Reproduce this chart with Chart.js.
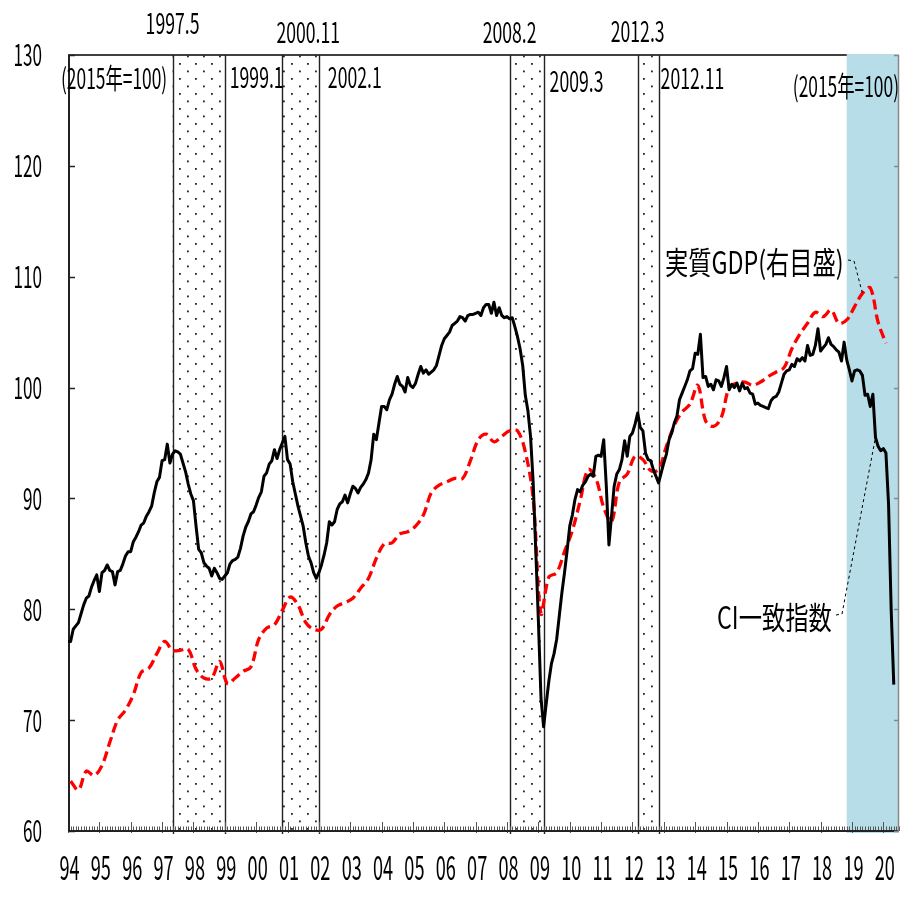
<!DOCTYPE html>
<html lang="ja">
<head>
<meta charset="utf-8">
<title>CI一致指数と実質GDP</title>
<script src="https://cdn.jsdelivr.net/npm/chart.js@4.4.1/dist/chart.umd.min.js"></script>
<style>
  html, body { margin: 0; padding: 0; background: #fff; }
  canvas { display: block; }
</style>
</head>
<body>
<canvas id="ciChart" width="903" height="907"></canvas>
<script>
// Datos: CI一致指数 (mensual, desde 1994.1) y 実質GDP (trimestral, desde 1994 I)
const startYear = 1994;

const ciValues = [
    77.1, 77.1, 78.2, 78.5, 78.8, 79.6, 80.4, 81.0, 81.2, 82.0, 82.6, 83.1,   // 1994
    81.6, 83.3, 83.5, 84.0, 83.5, 83.4, 82.2, 83.4, 83.5, 84.1, 84.8, 85.2,   // 1995
    85.2, 86.1, 86.5, 87.0, 87.6, 87.8, 88.4, 88.8, 89.3, 90.5, 91.5, 91.9,   // 1996
    93.4, 93.5, 94.9, 93.2, 94.0, 94.3, 94.2, 94.0, 93.2, 92.4, 91.3, 90.4,   // 1997
    89.8, 87.5, 85.4, 85.1, 84.2, 83.9, 83.7, 83.0, 83.7, 83.3, 82.8, 82.7,   // 1998
    83.0, 83.3, 84.1, 84.4, 84.5, 84.7, 85.5, 86.6, 87.4, 87.9, 88.6, 88.8,   // 1999
    89.4, 90.1, 90.6, 92.0, 92.3, 93.1, 93.4, 94.4, 93.6, 94.4, 95.0, 95.6,   // 2000
    93.5, 93.1, 91.5, 90.4, 89.3, 88.4, 87.5, 86.0, 84.8, 84.2, 83.3, 82.8,   // 2001
    83.3, 84.0, 84.9, 86.0, 87.9, 87.6, 87.9, 89.0, 89.5, 89.7, 90.3, 89.6,   // 2002
    90.4, 91.1, 90.9, 90.5, 91.0, 91.3, 91.7, 92.3, 93.5, 95.8, 95.3, 96.8,   // 2003
    98.3, 98.3, 98.0, 98.9, 99.4, 100.3, 101.0, 100.3, 100.1, 99.6, 100.9, 100.2, // 2004
    100.0, 100.4, 101.2, 101.9, 101.3, 101.6, 101.2, 101.4, 101.6, 102.0, 102.9, 103.8, // 2005
    104.4, 104.7, 105.0, 105.6, 105.8, 106.0, 106.4, 106.3, 106.0, 106.5, 106.6, 106.6, // 2006
    106.7, 106.8, 106.5, 107.2, 107.5, 107.5, 106.7, 107.7, 106.5, 107.2, 106.5, 106.3, // 2007
    106.4, 106.2, 106.3, 105.5, 104.6, 103.5, 102.0, 99.3, 97.9, 95.6, 91.5, 85.3,     // 2008
    79.0, 72.0, 69.4, 71.5, 73.5, 75.1, 76.0, 77.3, 79.4, 81.5, 83.3, 85.3,   // 2009
    87.5, 88.5, 89.9, 90.8, 90.6, 91.2, 91.5, 92.0, 92.2, 92.0, 93.8, 93.9,   // 2010
    93.8, 95.3, 91.1, 85.8, 88.4, 91.1, 92.2, 92.6, 93.5, 95.2, 93.8, 95.6,   // 2011
    95.9, 96.7, 97.7, 96.4, 96.1, 94.1, 93.5, 93.4, 92.6, 92.0, 91.4, 92.3,   // 2012
    93.2, 94.0, 95.3, 95.9, 96.8, 97.4, 98.9, 99.5, 100.1, 100.7, 101.5, 101.7, // 2013
    103.1, 103.0, 104.8, 100.9, 101.0, 100.1, 100.3, 99.8, 100.7, 100.6, 100.1, 100.9, // 2014
    101.9, 99.8, 100.3, 100.0, 100.4, 99.7, 100.4, 99.9, 100.0, 99.5, 99.4, 98.5,      // 2015
    98.6, 98.4, 98.3, 98.2, 98.1, 98.8, 99.1, 99.2, 99.6, 100.4, 101.2, 101.5,         // 2016
    101.6, 102.1, 101.9, 102.6, 102.4, 102.7, 102.4, 103.8, 102.9, 103.0, 103.8, 105.3, // 2017
    103.3, 103.6, 103.9, 104.5, 103.9, 103.7, 103.4, 103.2, 102.4, 104.1, 102.5, 101.6, // 2018
    100.6, 101.5, 101.6, 101.5, 101.1, 99.3, 99.4, 98.3, 99.4, 95.5, 94.7, 94.3,       // 2019
    94.5, 94.1, 89.5, 80.0, 73.2                                                       // 2020
];

const gdpValues = [
    64.5, 63.7, 65.4, 65.0,     // 1994
    65.9, 68.0, 70.0, 70.9,     // 1995
    72.3, 74.3, 74.7, 76.0,     // 1996
    77.1, 76.3, 76.3, 76.4,     // 1997
    74.6, 73.8, 73.8, 75.3,     // 1998
    73.3, 73.8, 74.4, 74.8,     // 1999
    77.3, 78.3, 78.6, 79.9,     // 2000
    81.1, 80.4, 78.8, 78.2,     // 2001
    78.2, 79.5, 80.3, 80.6,     // 2002
    81.0, 81.9, 82.8, 84.6,     // 2003
    85.9, 86.0, 86.8, 87.0,     // 2004
    87.5, 88.5, 90.5, 91.2,     // 2005
    91.5, 91.8, 91.8, 93.4,     // 2006
    95.3, 95.8, 95.1, 95.6,     // 2007
    96.1, 96.1, 94.2, 90.0,     // 2008
    79.6, 82.9, 83.3, 85.2,     // 2009
    87.1, 89.8, 92.6, 91.8,     // 2010
    89.2, 87.9, 91.5, 92.2,     // 2011
    93.8, 93.5, 92.5, 92.6,     // 2012
    94.7, 96.6, 97.8, 98.5,     // 2013
    100.2, 97.0, 96.5, 97.3,    // 2014
    100.0, 100.4, 100.5, 100.2, // 2015
    100.5, 101.0, 101.4, 101.8, // 2016
    103.5, 104.8, 105.8, 106.8, // 2017
    106.4, 107.0, 105.8, 106.1, // 2018
    107.3, 108.5, 109.0, 105.9, // 2019
    104.0                       // 2020
];

const yTicks = [60, 70, 80, 90, 100, 110, 120, 130];
const yearLabels = ['94', '95', '96', '97', '98', '99', '00', '01', '02', '03', '04', '05', '06', '07',
    '08', '09', '10', '11', '12', '13', '14', '15', '16', '17', '18', '19', '20'];

// 景気の山と谷
const peakLabels = ['1997.5', '2000.11', '2008.2', '2012.3'];
const troughLabels = ['1999.1', '2002.1', '2009.3', '2012.11'];
const shadeFrom = '2018.11';

const baseLabel = '(2015年=100)';
const gdpLabel = '実質GDP(右目盛)';
const ciLabel = 'CI一致指数';

const FONT = '"Noto Sans CJK JP", "Noto Sans", sans-serif';

document.addEventListener('DOMContentLoaded', function() {
    initChart();
});

function monthToYear(label) {
    const parts = label.split('.');
    return Number(parts[0]) + (Number(parts[1]) - 1) / 12;
}

function drawText(ctx, str, x, y, size, sx, align) {
    ctx.save();
    ctx.font = size + 'px ' + FONT;
    ctx.textBaseline = 'middle';
    ctx.textAlign = 'left';
    ctx.fillStyle = '#000';
    const w = ctx.measureText(str).width * sx;
    let left = x;
    if (align === 'center') left = x - w / 2;
    if (align === 'right') left = x - w;
    ctx.translate(left, y);
    ctx.scale(sx, 1);
    ctx.fillText(str, 0, 0);
    ctx.restore();
}

function makeDotPattern(ctx) {
    const c = document.createElement('canvas');
    c.width = 16;
    c.height = 15;
    const p = c.getContext('2d');
    p.fillStyle = '#222';
    p.fillRect(3, 3, 1.8, 1.8);
    p.fillRect(11, 10.5, 1.8, 1.8);
    return ctx.createPattern(c, 'repeat');
}

// Fondo: bandas, ejes y marcas
const backgroundPlugin = {
    id: 'background',
    beforeDatasetsDraw(chart) {
        const ctx = chart.ctx;
        const area = chart.chartArea;
        const xs = chart.scales.x;
        const ys = chart.scales.y;
        const y2 = chart.scales.y2;

        ctx.save();
        // borde superior
        ctx.strokeStyle = '#000';
        ctx.lineWidth = 1.5;
        ctx.beginPath();
        ctx.moveTo(area.left, area.top);
        ctx.lineTo(area.right, area.top);
        ctx.stroke();

        // periodos de recesión
        const pattern = makeDotPattern(ctx);
        peakLabels.forEach((p, i) => {
            const x0 = xs.getPixelForValue(monthToYear(p));
            const x1 = xs.getPixelForValue(monthToYear(troughLabels[i]));
            ctx.fillStyle = pattern;
            ctx.fillRect(x0, area.top, x1 - x0, area.bottom - area.top);
            ctx.strokeStyle = '#222';
            ctx.lineWidth = 1.4;
            [x0, x1].forEach(x => {
                ctx.beginPath();
                ctx.moveTo(Math.round(x) + 0.5, area.top);
                ctx.lineTo(Math.round(x) + 0.5, area.bottom + 3);
                ctx.stroke();
            });
        });

        // zona celeste
        const xb = xs.getPixelForValue(monthToYear(shadeFrom));
        ctx.fillStyle = 'rgb(183, 221, 232)';
        ctx.fillRect(xb, area.top - 1, area.right - xb, area.bottom - area.top + 3);

        // eje X y marcas mensuales
        ctx.strokeStyle = '#555';
        ctx.lineWidth = 1;
        const months = Math.round((xs.max - xs.min) * 12);
        for (let i = 0; i <= months; i++) {
            const x = Math.round(xs.getPixelForValue(xs.min + i / 12)) + 0.5;
            ctx.beginPath();
            if (i % 12 === 0) {
                ctx.moveTo(x, area.bottom - 9);
                ctx.lineTo(x, area.bottom + 2);
            } else {
                ctx.moveTo(x, area.bottom - 4.5);
                ctx.lineTo(x, area.bottom);
            }
            ctx.stroke();
        }
        ctx.strokeStyle = '#222';
        ctx.lineWidth = 2;
        ctx.beginPath();
        ctx.moveTo(area.left, area.bottom);
        ctx.lineTo(area.right, area.bottom);
        ctx.stroke();

        // eje izquierdo
        ctx.beginPath();
        ctx.moveTo(area.left + 1, area.top);
        ctx.lineTo(area.left + 1, area.bottom + 1);
        ctx.stroke();
        ctx.lineWidth = 1.5;
        yTicks.forEach(v => {
            const y = Math.round(ys.getPixelForValue(v)) + 0.5;
            ctx.beginPath();
            ctx.moveTo(area.left + 1, y);
            ctx.lineTo(area.left + 7, y);
            ctx.stroke();
        });

        // eje derecho (sin etiquetas)
        ctx.strokeStyle = '#888';
        ctx.lineWidth = 1.5;
        ctx.beginPath();
        ctx.moveTo(area.right - 0.5, area.top);
        ctx.lineTo(area.right - 0.5, area.bottom);
        ctx.stroke();
        yTicks.forEach(v => {
            const y = Math.round(y2.getPixelForValue(v)) + 0.5;
            ctx.beginPath();
            ctx.moveTo(area.right, y);
            ctx.lineTo(area.right - 5, y);
            ctx.stroke();
        });
        ctx.restore();
    },
    afterDatasetsDraw(chart) {
        const ctx = chart.ctx;
        const area = chart.chartArea;
        const xs = chart.scales.x;
        const ys = chart.scales.y;
        const y2 = chart.scales.y2;

        // etiquetas de ejes
        yTicks.forEach(v => drawText(ctx, String(v), 42, ys.getPixelForValue(v), 30, 0.57, 'right'));
        yearLabels.forEach((lab, i) => drawText(ctx, lab, xs.getPixelForValue(startYear + i) + 1.5, 867, 33, 0.55, 'center'));

        // fechas de picos y valles
        const topY = [23, 32, 32, 31];
        peakLabels.forEach((p, i) => {
            const dx = i === 1 ? 26 : 0;
            drawText(ctx, p, xs.getPixelForValue(monthToYear(p)) + dx, topY[i], 28, 0.63, 'center');
        });
        const troughDx = [5, 9, 6, 2];
        const troughY = [77, 77, 81, 78];
        troughLabels.forEach((t, i) => {
            drawText(ctx, t, xs.getPixelForValue(monthToYear(t)) + troughDx[i], troughY[i], 28, 0.63, 'left');
        });
        drawText(ctx, baseLabel, area.left - 7, 78, 28, 0.62, 'left');
        drawText(ctx, baseLabel, area.right, 86, 28, 0.62, 'right');

        // leyendas con líneas guía
        drawText(ctx, gdpLabel, 665, 262, 31, 0.75, 'left');
        drawText(ctx, ciLabel, 717, 617, 31, 0.75, 'left');

        const gdpIdx = (2019 - startYear) * 4 + 1;
        const gx = xs.getPixelForValue(startYear + gdpIdx / 4 + 1 / 12);
        const gy = y2.getPixelForValue(gdpValues[gdpIdx]);
        const ciIdx = (2019 - startYear) * 12 + 9;
        const cx = xs.getPixelForValue(startYear + ciIdx / 12);
        const cy = ys.getPixelForValue(ciValues[ciIdx]);

        ctx.save();
        ctx.strokeStyle = '#000';
        ctx.lineWidth = 1;
        ctx.setLineDash([3, 3]);
        ctx.beginPath();
        ctx.moveTo(848, 260);
        ctx.lineTo(854, 261);
        ctx.lineTo(gx, gy);
        ctx.stroke();
        ctx.beginPath();
        ctx.moveTo(836, 615);
        ctx.lineTo(842, 614);
        ctx.lineTo(cx, cy);
        ctx.stroke();
        ctx.restore();
    }
};

function initChart() {
    const ctx = document.getElementById('ciChart').getContext('2d');
    const ciPoints = ciValues.map((v, i) => ({ x: startYear + i / 12, y: v }));
    const gdpPoints = gdpValues.map((v, i) => ({ x: startYear + i / 4 + 1 / 12, y: v }));

    new Chart(ctx, {
        type: 'line',
        data: {
            datasets: [{
                label: ciLabel,
                data: ciPoints,
                borderColor: '#000',
                borderWidth: 3,
                pointRadius: 0,
                tension: 0,
                borderJoinStyle: 'round',
                yAxisID: 'y'
            }, {
                label: gdpLabel,
                data: gdpPoints,
                borderColor: '#ff0000',
                borderWidth: 3.3,
                borderDash: [10, 5],
                pointRadius: 0,
                tension: 0.35,
                yAxisID: 'y2'
            }]
        },
        options: {
            responsive: false,
            animation: false,
            devicePixelRatio: 1,
            layout: { padding: { left: 68, right: 4, top: 55, bottom: 76 } },
            plugins: {
                legend: { display: false },
                tooltip: { enabled: false }
            },
            scales: {
                x: { type: 'linear', display: false, min: 1994, max: 2020.5 },
                y: { display: false, min: 60, max: 130 },
                y2: { display: false, position: 'right', min: 60, max: 130 }
            }
        },
        plugins: [backgroundPlugin]
    });
}
</script>
</body>
</html>
